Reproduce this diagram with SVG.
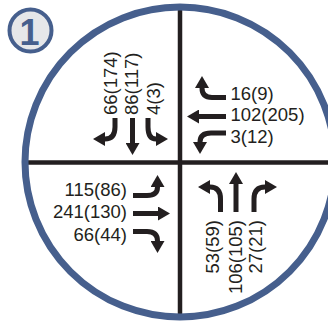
<svg xmlns="http://www.w3.org/2000/svg" width="328" height="324" viewBox="0 0 328 324">
<style>
.bg{fill:#ffffff}
.cross{stroke:#231f20;stroke-width:4.5;fill:none}
.ring{stroke:#465f8d;stroke-width:7;fill:none}
.arr{stroke:#231f20;stroke-width:5;fill:none;marker-end:url(#ah)}
.lbl{font-family:"Liberation Sans",Arial,sans-serif;font-size:18.5px;fill:#231f20}
.badge{fill:#e6e7e9;stroke:#465f8d;stroke-width:4}
.num{font-family:"Liberation Sans",Arial,sans-serif;font-size:36px;font-weight:bold;fill:#465f8d}
</style>
<defs>
<marker id="ah" markerUnits="userSpaceOnUse" markerWidth="13" markerHeight="14" refX="0" refY="7" orient="auto" viewBox="0 0 13 14">
<path d="M0,0 L12,7 L0,14 Z" fill="#231f20"/>
</marker>
</defs>
<rect class="bg" x="0" y="0" width="328" height="324"/>
<g id="intersection">
<line class="cross" x1="180" y1="6" x2="180" y2="318"/>
<line class="cross" x1="24" y1="162.5" x2="340" y2="162.5"/>
<circle class="ring" cx="180" cy="162" r="155"/>
</g>
<g id="badge">
<circle class="badge" cx="30.5" cy="30.5" r="21"/>
<text class="num" x="29.5" y="44.5" text-anchor="middle">1</text>
</g>
<g id="connectors">
<path class="arr" d="M115,118 V127 Q115,139 105,139"/>
<path class="arr" d="M132.5,118 V143"/>
<path class="arr" d="M148,118 V127 Q148,139 156,139"/>
<path class="arr" d="M226,97.5 H212 Q202,97.5 202,88"/>
<path class="arr" d="M226,116.5 H199"/>
<path class="arr" d="M226,133 H211 Q200,133 200,142"/>
<path class="arr" d="M133,195.5 H147 Q157.5,195.5 157.5,187"/>
<path class="arr" d="M133,213.5 H158"/>
<path class="arr" d="M133,231.5 H147 Q157.5,231.5 157.5,241"/>
<path class="arr" d="M220.5,212 V199 Q220.5,187 210,187"/>
<path class="arr" d="M236,212 V184"/>
<path class="arr" d="M254,212 V199 Q254,187 265,187"/>
</g>
<g id="north">
<text class="lbl" transform="translate(116.5,115) rotate(-90)">66(174)</text>
<text class="lbl" transform="translate(138,115) rotate(-90)">86(117)</text>
<text class="lbl" transform="translate(159.5,115) rotate(-90)">4(3)</text>
</g>
<g id="east">
<text class="lbl" x="230.5" y="99.5">16(9)</text>
<text class="lbl" x="230.5" y="121">102(205)</text>
<text class="lbl" x="230.5" y="143">3(12)</text>
</g>
<g id="west">
<text class="lbl" x="127" y="196" text-anchor="end">115(86)</text>
<text class="lbl" x="127" y="218" text-anchor="end">241(130)</text>
<text class="lbl" x="127" y="240.5" text-anchor="end">66(44)</text>
</g>
<g id="south">
<text class="lbl" transform="translate(218.5,220) rotate(-90)" text-anchor="end">53(59)</text>
<text class="lbl" transform="translate(241.5,220) rotate(-90)" text-anchor="end">106(105)</text>
<text class="lbl" transform="translate(261.5,220) rotate(-90)" text-anchor="end">27(21)</text>
</g>
</svg>
